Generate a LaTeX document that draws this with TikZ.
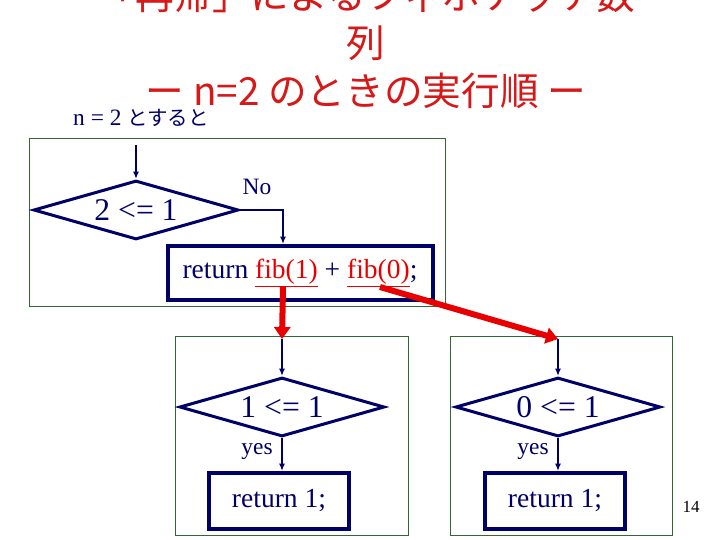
\documentclass[tikz,border=0pt]{standalone}
\usepackage{fontspec}
\setmainfont{Liberation Serif}
\newfontfamily\jfont{Noto Sans CJK JP}
\usetikzlibrary{arrows.meta, positioning, shapes.geometric}
\definecolor{navy}{RGB}{0,0,102}
\definecolor{panelgreen}{RGB}{51,102,51}
\definecolor{titlered}{RGB}{214,24,24}
\definecolor{callred}{RGB}{232,0,0}

\begin{document}
\begin{tikzpicture}[x=0.3mm, y=-0.3mm,
    panel/.style={draw=panelgreen, line width=0.3mm, inner sep=0pt},
    test/.style={draw=navy, diamond, aspect=3.5, line width=0.9mm, minimum width=61.5mm, minimum height=17.7mm, inner sep=0pt, text=navy, font=\fontsize{27}{30}\selectfont},
    retbox/.style={draw=navy, line width=1.2mm, inner sep=0pt, text=navy, font=\fontsize{23.5}{26}\selectfont},
    flow/.style={draw=navy, line width=0.6mm, -{Latex[length=2.2mm,width=1.8mm]}},
    call/.style={draw=callred, line width=1.8mm, -{Triangle[length=3.6mm,width=4.8mm]}},
    lbl/.style={text=navy, font=\fontsize{20}{22}\selectfont, inner sep=0pt}]
    \useasboundingbox (0,0) rectangle (720,540);

    \node[text=titlered, align=center, font=\jfont\fontsize{33}{41}\selectfont] (title) at (366,43)
      {「再帰」によるフィボナッチ数\\列\\ー n=2 のときの実行順 ー};
    \node[lbl, anchor=west] (cond) at (73,118) {n = 2 {\jfont\fontsize{17.5}{20}\selectfont とすると}};

    % n = 2
    \node[panel, minimum width=124.5mm, minimum height=50.4mm] (p1) at (237.5,222) {};
    \coordinate (in1) at (136,145);
    \node[test] (t1) at (136,210) {2 <= 1};
    \node[retbox, minimum width=79.5mm, minimum height=16.2mm] (r1) at (300,273)
      {return \textcolor{callred}{\underline{fib(1)}} + \textcolor{callred}{\underline{fib(0)}};};
    \coordinate (f1) at (283,287);
    \coordinate (f0) at (380,287);
    \draw[flow] (in1) -- (t1.north);
    \draw[flow] (t1.east) -| (f1 |- r1.north);
    \node[lbl] (no) at (257,187) {No};

    % fib(1), fib(0)
    \foreach \i/\x/\cx/\w/\v in {2/282/291.5/69.9/1, 3/558/561/66.6/0} {
      \node[panel, minimum width=\w mm, minimum height=59.7mm] (p\i) at (\cx,435.5) {};
      \coordinate (in\i) at (\x,339);
      \node[test] (t\i) at (\x,407) {\v\ <= 1};
      \node[retbox, minimum width=42mm, minimum height=16.8mm] (r\i) at (\x-3,501) {return 1;};
      \draw[flow] (in\i) -- (t\i.north);
      \draw[flow] (t\i.south) -- (t\i.south |- r\i.north);
      \node[lbl] (y\i) at (\x-25,452) {yes};
    }
    \draw[call] (f1) -- (in2);
    \draw[call] (f0) -- (in3);

    \node[font=\fontsize{14.5}{16}\selectfont] (page) at (691,507) {14};
  \end{tikzpicture}
\end{document}
